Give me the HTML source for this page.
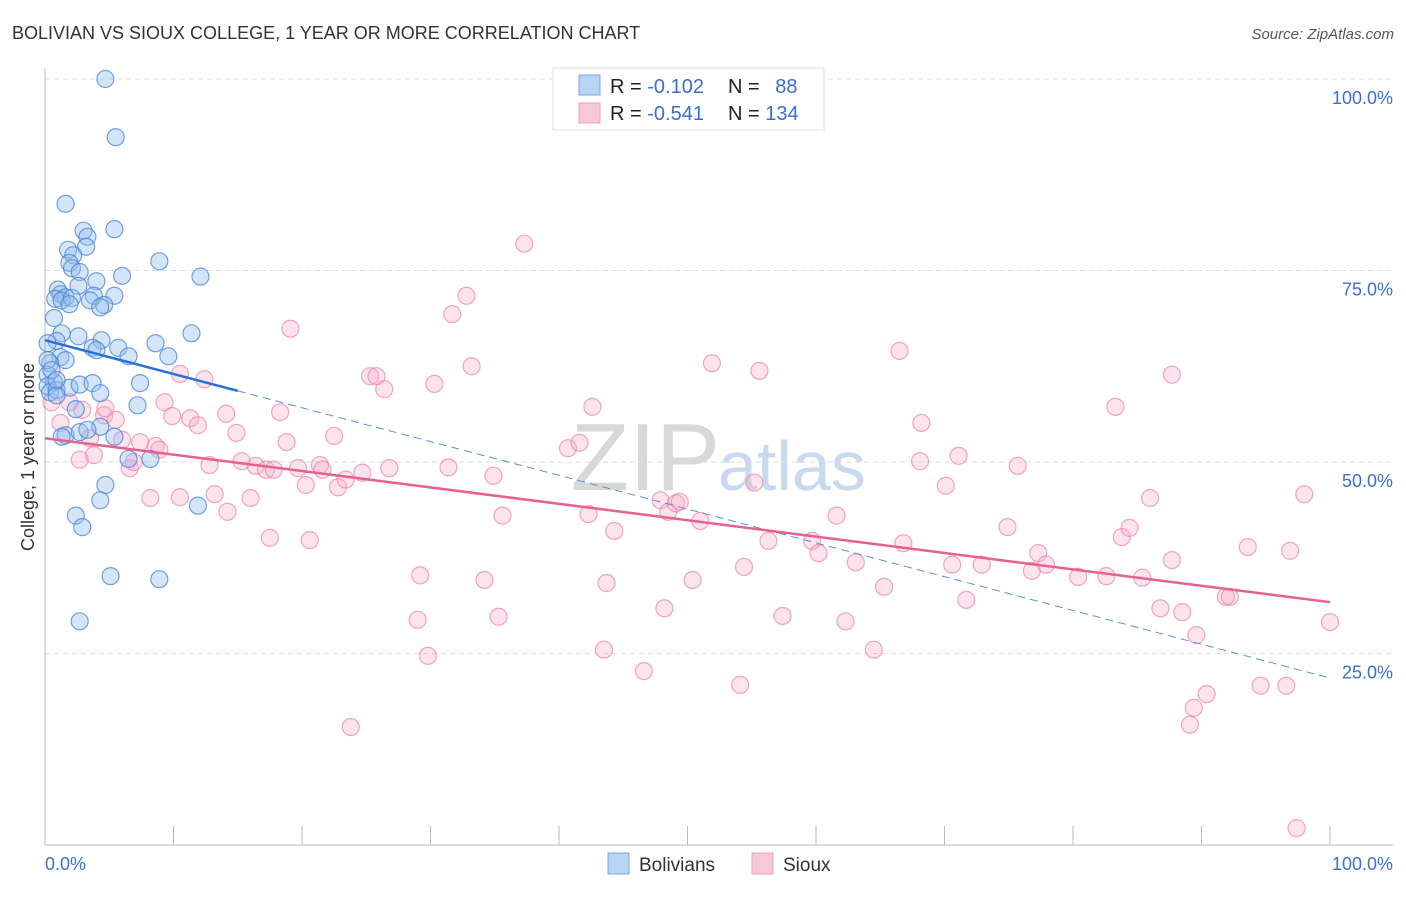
<!DOCTYPE html>
<html><head><meta charset="utf-8"><style>
body{margin:0;background:#fff;font-family:"Liberation Sans",sans-serif}
svg text{font-family:"Liberation Sans",sans-serif}
</style></head><body>
<svg id="chart" width="1406" height="892" xmlns="http://www.w3.org/2000/svg">
<text x="12" y="39" font-size="18" fill="#333">BOLIVIAN VS SIOUX COLLEGE, 1 YEAR OR MORE CORRELATION CHART</text>
<text x="1394" y="39" font-size="15" fill="#555" font-style="italic" text-anchor="end">Source: ZipAtlas.com</text>
<text x="720" y="490" font-size="96" fill="#d8d8d8" font-family="Liberation Serif" text-anchor="end">ZIP</text>
<text x="718" y="490" font-size="70" fill="#c8daf0">atlas</text>
<g id="grid"></g>
<text transform="translate(34,457) rotate(-90)" font-size="18" fill="#333" text-anchor="middle">College, 1 year or more</text>
<g id="pts"></g>
<g id="lines"></g>
<g>
<rect x="553" y="68" width="271" height="62" fill="#fff" stroke="#ddd"/>
<rect x="579" y="75" width="21" height="20" fill="#b8d4f4" stroke="#7aa8e0"/>
<rect x="579" y="103" width="21" height="20" fill="#f9c8d6" stroke="#f0a0b8"/>
<text x="610" y="93" font-size="20" fill="#222">R = <tspan fill="#3a70cc">-0.102</tspan></text>
<text x="728" y="93" font-size="20" fill="#222">N = <tspan fill="#3a70cc" dx="10">88</tspan></text>
<text x="610" y="120" font-size="20" fill="#222">R = <tspan fill="#3a70cc">-0.541</tspan></text>
<text x="728" y="120" font-size="20" fill="#222">N = <tspan fill="#3a70cc">134</tspan></text>
</g>
<g>
<rect x="608" y="853" width="21" height="21" fill="#b8d4f4" stroke="#7aa8e0"/>
<text x="639" y="871" font-size="19" fill="#333">Bolivians</text>
<rect x="752" y="853" width="21" height="21" fill="#f9c8d6" stroke="#f0a0b8"/>
<text x="783" y="871" font-size="19" fill="#333">Sioux</text>
</g>
</svg>
<script>
const yTicks=[100,75,50,25];
const yTickLabels=["100.0%","75.0%","50.0%","25.0%"];
const xTickLabels=["0.0%","100.0%"];
const blueX=[4.7,5.5,1.6,5.4,3.0,3.3,1.8,3.2,2.2,1.9,2.1,2.7,8.9,12.1,4.0,6.0,2.6,1.0,1.2,1.6,0.8,1.3,2.1,5.4,3.8,3.5,4.6,4.3,1.9,0.7,11.4,1.3,2.6,4.4,0.9,0.2,3.7,4.0,5.7,6.5,8.6,9.6,1.2,1.6,0.4,0.2,0.7,0.2,0.4,0.9,1.9,2.7,3.7,7.4,4.3,0.9,2.4,7.2,1.6,1.3,2.7,4.3,5.4,6.5,8.2,4.7,4.3,11.9,2.4,2.9,5.1,8.9,2.7,0.2,0.5,0.9,3.3];
const blueY=[100,92.4,83.7,80.4,80.2,79.4,77.7,78.1,77.0,76.0,75.3,74.8,76.2,74.2,73.6,74.3,73.0,72.5,71.9,71.5,71.3,71.1,71.4,71.7,71.7,71.1,70.5,70.2,70.6,68.8,66.8,66.8,66.4,65.9,65.8,65.5,64.9,64.6,64.9,63.8,65.5,63.8,63.7,63.3,62.9,61.4,60.4,59.9,59.1,59.4,59.7,60.1,60.3,60.3,59.0,58.7,56.9,57.4,53.5,53.3,53.9,54.6,53.3,50.4,50.4,47.0,45.0,44.3,43.0,41.5,35.1,34.7,29.2,63.3,62.0,60.7,54.2];
const pinkX=[0.5,1.2,1.9,2.9,3.5,3.8,2.7,4.6,4.7,5.5,6.0,7.4,6.6,6.9,8.2,8.6,8.9,9.3,9.9,10.5,11.3,11.9,10.5,12.4,12.8,13.2,14.1,14.2,14.9,15.3,16.0,16.4,17.2,17.5,17.8,19.1,18.3,18.8,20.3,20.6,19.7,21.4,21.6,22.5,22.8,23.4,23.8,24.7,25.3,25.8,26.4,26.8,29.2,29.0,29.8,30.3,31.4,31.7,32.8,33.2,34.2,34.9,35.3,35.6,37.3,40.7,41.6,42.3,42.6,43.5,43.7,44.3,46.6,47.9,48.2,48.5,49.1,49.4,50.4,51.0,51.9,54.1,54.4,55.2,55.6,56.3,57.4,59.7,60.2,61.6,62.3,63.1,64.5,65.3,66.5,66.8,68.1,68.2,70.1,70.6,71.1,71.7,72.9,74.9,75.7,76.8,77.3,77.9,80.4,82.6,83.3,83.8,84.4,85.4,86.0,86.8,87.7,87.7,88.5,89.1,89.4,89.6,90.4,91.9,92.2,93.6,94.6,96.6,96.9,98.0,97.4,100];
const pinkY=[57.8,55.1,57.8,56.8,53.1,50.9,50.3,56.1,57.0,55.5,52.9,52.6,49.2,50.0,45.3,52.1,51.6,57.8,56.0,61.5,55.7,54.8,45.4,60.8,49.6,45.8,56.3,43.5,53.8,50.1,45.3,49.5,49.0,40.1,49.0,67.4,56.5,52.6,47.0,39.8,49.2,49.6,49.0,53.4,46.7,47.7,15.4,48.6,61.2,61.2,59.5,49.2,35.2,29.4,24.7,60.2,49.3,69.3,71.7,62.5,34.6,48.2,29.8,43.0,78.5,51.8,52.5,43.2,57.2,25.5,34.2,41.0,22.7,45.0,30.9,43.5,44.6,44.8,34.6,42.3,62.9,20.9,36.3,47.3,61.9,39.7,29.9,39.7,38.1,43.0,29.2,36.9,25.5,33.7,64.5,39.4,50.1,55.1,46.9,36.6,50.8,32.0,36.6,41.5,49.5,35.8,38.1,36.6,35.0,35.1,57.2,40.2,41.4,34.9,45.3,30.9,37.2,61.4,30.4,15.7,17.9,27.4,19.7,32.4,32.4,38.9,20.8,20.8,38.4,45.8,2.2,29.1];
const blueTrend=[65.9,21.8];
const pinkTrend=[53.1,31.7];
const NS="http://www.w3.org/2000/svg";
const X0=45,X1=1330,Y0=845,Y1=79;
const sx=v=>X0+(X1-X0)*v/100;
const sy=v=>Y0-(Y0-Y1)*v/100;
function mk(tag,attrs,parent){const e=document.createElementNS(NS,tag);for(const k in attrs)e.setAttribute(k,attrs[k]);parent.appendChild(e);return e;}
const grid=document.getElementById('grid');
yTicks.forEach((t,i)=>{
 const l=mk('line',{x1:X0,x2:1393,y1:sy(t),y2:sy(t),stroke:'#ddd','stroke-dasharray':'5,4'},grid);
 
 
 const tx=mk('text',{x:1393,y:sy(t)+25,'font-size':18,fill:'#3a70cc','text-anchor':'end'},grid);
 tx.textContent=yTickLabels[i];
 
 
});
const ax=mk('line',{x1:X0,x2:1393,y1:Y0,y2:Y0,stroke:'#bbb'},grid);


const ay=mk('line',{x1:X0,x2:X0,y1:68,y2:Y0,stroke:'#bbb'},grid);


for(let i=0;i<=10;i++){
 const t=mk('line',{x1:sx(i*10),x2:sx(i*10),y1:826,y2:Y0,stroke:'#bbb'},grid);
 
 
}
const xl0=mk('text',{x:45,y:870,'font-size':18,fill:'#3a70cc'},grid);xl0.textContent=xTickLabels[0];


const xl1=mk('text',{x:1393,y:870,'font-size':18,fill:'#3a70cc','text-anchor':'end'},grid);xl1.textContent=xTickLabels[1];


const pts=document.getElementById('pts');
pinkX.forEach((x,i)=>{
 const c=mk('circle',{cx:sx(x),cy:sy(pinkY[i]),r:8.5,fill:'rgba(248,176,198,0.35)',stroke:'rgba(236,130,165,0.7)','stroke-width':1.2},pts);
 
 
});
blueX.forEach((x,i)=>{
 const c=mk('circle',{cx:sx(x),cy:sy(blueY[i]),r:8.5,fill:'rgba(150,190,238,0.4)',stroke:'rgba(70,130,215,0.75)','stroke-width':1.2},pts);
 
 
});
const lines=document.getElementById('lines');
const by=x=>blueTrend[0]+(blueTrend[1]-blueTrend[0])*x/100;
const py=x=>pinkTrend[0]+(pinkTrend[1]-pinkTrend[0])*x/100;
const bs=mk('line',{x1:sx(0),y1:sy(by(0)),x2:sx(15),y2:sy(by(15)),stroke:'#2a6fd6','stroke-width':2.5},lines);


const bd=mk('line',{x1:sx(15),y1:sy(by(15)),x2:sx(100),y2:sy(by(100)),stroke:'#5a90dd','stroke-width':1,'stroke-dasharray':'8,5'},lines);


const pl=mk('line',{x1:sx(0),y1:sy(py(0)),x2:sx(100),y2:sy(py(100)),stroke:'#e8608e','stroke-width':2.5},lines);


</script>
</body></html>
